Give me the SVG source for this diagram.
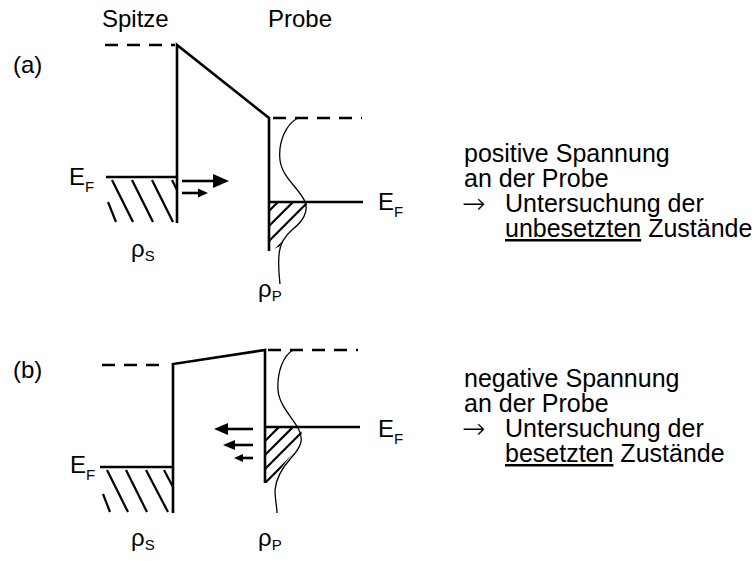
<svg xmlns="http://www.w3.org/2000/svg" width="755" height="561" viewBox="0 0 755 561">
<defs>
<style>
.ln{stroke:#000;stroke-width:2.6;fill:none;stroke-linecap:butt}
.dash{stroke:#000;stroke-width:2.6;fill:none;stroke-dasharray:13 9}
.thin{stroke:#000;stroke-width:1.3;fill:none}
.hat{stroke:#000;stroke-width:2.2;fill:none}
.t{font-family:"Liberation Sans",Arial,sans-serif;font-size:24px;fill:#000}
.sub{font-size:15px}
.rt{font-family:"Liberation Sans",Arial,sans-serif;font-size:25px;fill:#000}
.arr{font-family:"DejaVu Sans",sans-serif;font-size:28px;font-weight:200;fill:#000}
.ah{fill:#000;stroke:none}
</style>
<clipPath id="hpa"><path d="M270,202 L306,202 C309,208 305,216 296,225 C288,233 282,240 280,246 L270,251 Z"/></clipPath>
<clipPath id="hpb"><path d="M266,427 L298,427 C305,434 303,442 295,451 C287,460 279,470 275,480 L266,483 Z"/></clipPath>
</defs>
<rect width="755" height="561" fill="#fff"/>

<g id="labels">
<text class="t" x="102" y="27">Spitze</text>
<text class="t" x="268" y="27">Probe</text>
<text class="t" x="13" y="73">(a)</text>
<text class="t" x="13" y="378">(b)</text>
</g>

<g id="panel-a">
<g id="a-tip">
<line class="dash" x1="105" y1="45" x2="175" y2="45"/>
<line class="ln" x1="106" y1="177" x2="177" y2="177"/>
<g class="hat">
<line x1="112" y1="180" x2="133" y2="222"/>
<line x1="132" y1="180" x2="153" y2="222"/>
<line x1="152" y1="180" x2="173" y2="222"/>
<line x1="172" y1="180" x2="177" y2="190"/>
<line x1="108" y1="202" x2="116" y2="222"/>
</g>
<text class="t" x="69" y="185">E<tspan class="sub" dy="7">F</tspan></text>
<text class="t" x="131" y="257">ρ<tspan class="sub" dy="4">S</tspan></text>
</g>
<g id="a-barrier">
<path class="ln" d="M177,223 V45 L269,118 V251"/>
</g>
<g id="a-probe">
<line class="dash" x1="273" y1="118" x2="362" y2="118"/>
<line class="ln" x1="269" y1="202" x2="363" y2="202"/>
<g class="hat" clip-path="url(#hpa)">
<line x1="260" y1="220" x2="330" y2="150"/>
<line x1="260" y1="235" x2="330" y2="165"/>
<line x1="260" y1="250" x2="330" y2="180"/>
<line x1="260" y1="265" x2="330" y2="195"/>
</g>
<path class="thin" d="M298,118 C286,124 278,142 280,160 C282,178 301,190 305,202 C309,212 302,222 293,229 C285,236 280,243 279,255 C278,266 279,275 280,284"/>
<text class="t" x="378" y="210">E<tspan class="sub" dy="7">F</tspan></text>
<text class="t" x="258" y="297">ρ<tspan class="sub" dy="4">P</tspan></text>
</g>
<g id="a-arrows">
<line class="ln" x1="182" y1="181" x2="214" y2="181" stroke-width="3"/>
<path class="ah" d="M213,174 L229,181 L213,188 Z"/>
<line class="ln" x1="182" y1="193" x2="200" y2="193"/>
<path class="ah" d="M198,188.5 L208,193 L198,197.5 Z"/>
</g>
<g id="a-text">
<text class="rt" x="464" y="162">positive Spannung</text>
<text class="rt" x="464" y="187">an der Probe</text>
<text class="arr" x="462" y="213">→</text>
<text class="rt" x="505" y="212">Untersuchung der</text>
<text class="rt" x="505" y="237"><tspan text-decoration="underline">unbesetzten</tspan> Zustände</text>
</g>
</g>

<g id="panel-b">
<g id="b-tip">
<line class="dash" x1="102" y1="365" x2="164" y2="365"/>
<line class="ln" x1="100" y1="467" x2="173" y2="467"/>
<g class="hat">
<line x1="107" y1="470" x2="128" y2="512"/>
<line x1="126" y1="470" x2="147" y2="512"/>
<line x1="146" y1="470" x2="168" y2="512"/>
<line x1="164" y1="470" x2="173" y2="487"/>
<line x1="103" y1="494" x2="110" y2="512"/>
</g>
<text class="t" x="70" y="473">E<tspan class="sub" dy="7">F</tspan></text>
<text class="t" x="131" y="546">ρ<tspan class="sub" dy="4">S</tspan></text>
</g>
<g id="b-barrier">
<path class="ln" d="M173,513 V364 L265,350 V483"/>
</g>
<g id="b-probe">
<line class="dash" x1="268" y1="350" x2="358" y2="350"/>
<line class="ln" x1="265" y1="427" x2="360" y2="427"/>
<g class="hat" clip-path="url(#hpb)">
<line x1="255" y1="451" x2="325" y2="381"/>
<line x1="255" y1="465" x2="325" y2="395"/>
<line x1="255" y1="479" x2="325" y2="409"/>
<line x1="255" y1="493" x2="325" y2="423"/>
</g>
<path class="thin" d="M293,350 C283,356 277,372 278,390 C279,405 292,417 298,428 C305,440 300,448 291,458 C282,468 276,478 275,490 C275,500 277,507 277,513"/>
<text class="t" x="378" y="437">E<tspan class="sub" dy="7">F</tspan></text>
<text class="t" x="258" y="546">ρ<tspan class="sub" dy="4">P</tspan></text>
</g>
<g id="b-arrows">
<line class="ln" x1="253" y1="429" x2="226" y2="429" stroke-width="3"/>
<path class="ah" d="M228,423 L214,429 L228,435 Z"/>
<line class="ln" x1="253" y1="445" x2="233" y2="445"/>
<path class="ah" d="M235,440 L223,445 L235,450 Z"/>
<line class="ln" x1="253" y1="458" x2="241" y2="458"/>
<path class="ah" d="M243,454 L234,458 L243,462 Z"/>
</g>
<g id="b-text">
<text class="rt" x="464" y="387">negative Spannung</text>
<text class="rt" x="464" y="412">an der Probe</text>
<text class="arr" x="462" y="438">→</text>
<text class="rt" x="505" y="437">Untersuchung der</text>
<text class="rt" x="505" y="462"><tspan text-decoration="underline">besetzten</tspan> Zustände</text>
</g>
</g>
</svg>
